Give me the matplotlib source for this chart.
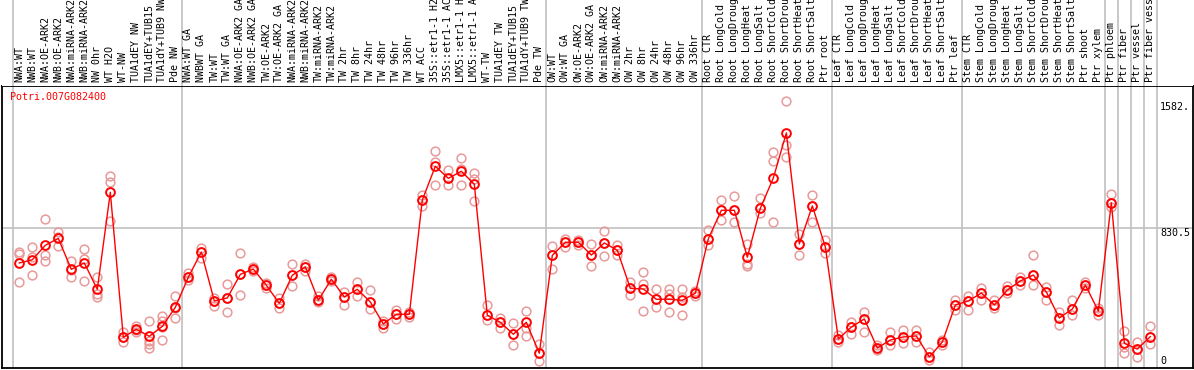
import matplotlib
matplotlib.use("Agg")
import matplotlib.pyplot as plt
import numpy as np

gene = "Potri.007G082400"

labels = [
    "NWA:WT", "NWB:WT", "NWA:OE-ARK2", "NWB:OE-ARK2", "NWA:miRNA-ARK2", "NWB:miRNA-ARK2",
    "NW 0hr", "WT H2O", "WT-NW", "TUA1dEY NW", "TUA1dEY+TUB15", "TUA1dY+TUB9 NW", "Pde NW",
    "NWA:WT GA", "NWBWT GA", "TW:WT", "TW:WT GA", "NWA:OE-ARK2 GA", "NWB:OE-ARK2 GA",
    "TW:OE-ARK2", "TW:OE-ARK2 GA", "NWA:miRNA-ARK2", "NWB:miRNA-ARK2", "TW:miRNA-ARK2",
    "TW:miRNA-ARK2", "TW 2hr", "TW 8hr", "TW 24hr", "TW 48hr", "TW 96hr", "TW 336hr",
    "WT ACC", "35S::etr1-1 H2", "35S::etr1-1 AC", "LMX5::etr1-1 H", "LMX5::etr1-1 A",
    "WT-TW", "TUA1dEY TW", "TUA1dEY+TUB15", "TUA1dY+TUB9 TW", "Pde TW",
    "OW:WT", "OW:WT GA", "OW:OE-ARK2", "OW:OE-ARK2 GA", "OW:miRNA-ARK2", "OW:miRNA-ARK2",
    "OW 2hr", "OW 8hr", "OW 24hr", "OW 48hr", "OW 96hr", "OW 336hr",
    "Root CTR", "Root LongCold", "Root LongDroug", "Root LongHeat", "Root LongSalt",
    "Root ShortCold", "Root ShortDrou", "Root ShortHeat", "Root ShortSalt", "Ptr root",
    "Leaf CTR", "Leaf LongCold", "Leaf LongDroug", "Leaf LongHeat", "Leaf LongSalt",
    "Leaf ShortCold", "Leaf ShortDrou", "Leaf ShortHeat", "Leaf ShortSalt", "Ptr leaf",
    "Stem CTR", "Stem LongCold", "Stem LongDroug", "Stem LongHeat", "Stem LongSalt",
    "Stem ShortCold", "Stem ShortDrou", "Stem ShortHeat", "Stem ShortSalt", "Ptr shoot",
    "Ptr xylem", "Ptr phloem", "Ptr fiber", "Ptr vessel", "Ptr fiber vess",
]

means = [
    621, 640, 726, 767, 583, 621, 464, 1041, 179, 227, 185, 244, 357,
    536, 686, 395, 413, 553, 585, 488, 381, 548, 597, 399, 524, 419, 464, 389,
    258, 316, 316, 995, 1196, 1124, 1166, 1089, 310, 268, 197, 268, 84,
    666, 744, 744, 668, 740, 696, 470, 466, 405, 405, 399, 441,
    765, 934, 934, 655, 946, 1126, 1394, 734, 960, 716,
    169, 240, 288, 115, 163, 181, 187, 62, 151, 371,
    395, 442, 371, 460, 514, 549, 448, 294, 347, 490, 335,
    979, 143, 109, 183,
]

replicates = [
    [686, 672, 506], [716, 658, 548], [880, 668, 631], [803, 775, 724], [634, 579, 537],
    [702, 644, 512], [539, 436, 420], [1138, 1100, 872], [209, 178, 151], [248, 222, 209],
    [276, 159, 137, 117], [306, 276, 242, 163], [424, 353, 295],
    [559, 536, 518], [712, 686, 652], [414, 395, 363], [494, 413, 328], [680, 553, 429],
    [597, 585, 571], [502, 488, 472], [413, 381, 351], [615, 548, 482], [617, 597, 571],
    [424, 399, 389], [537, 524, 511], [450, 419, 369], [506, 464, 423], [460, 389, 347],
    [276, 258, 236], [341, 316, 290], [329, 316, 300], [1023, 995, 960], [1285, 1221, 1086],
    [1172, 1124, 1086], [1243, 1181, 1086], [1154, 1118, 987], [369, 310, 280],
    [295, 268, 236], [266, 197, 131], [334, 236, 187], [137, 84, 36],
    [722, 666, 583], [762, 744, 714], [757, 744, 728], [732, 668, 601], [811, 740, 660],
    [726, 696, 666], [509, 470, 429], [567, 494, 334], [464, 405, 357], [464, 435, 328],
    [468, 420, 310], [454, 441, 424],
    [815, 765, 726], [993, 934, 875], [1019, 934, 864], [735, 617, 603], [1009, 946, 916],
    [1281, 1227, 864], [1582, 1322, 1251], [793, 734, 668], [1025, 960, 864], [757, 716, 680],
    [193, 169, 151], [270, 240, 199], [329, 288, 210], [133, 115, 103], [210, 163, 133],
    [222, 181, 145], [222, 187, 151], [92, 62, 44], [163, 151, 133], [401, 371, 341],
    [424, 395, 341], [472, 442, 401], [401, 371, 353], [484, 460, 442], [537, 514, 490],
    [668, 549, 490], [478, 448, 401], [329, 294, 252], [401, 347, 312], [508, 490, 472],
    [353, 335, 312],
    [1029, 979, 955], [218, 123, 84], [151, 109, 60], [244, 183, 137],
]

group_edges = [-0.5, 12.5, 40.5, 52.5, 62.5, 72.5, 83.5, 84.5, 85.5, 86.5, 87.5]
ytick_vals = [0, 830.5, 1582]
ytick_text = ["0", "830.5", "1582."]
y_mid = 830.5

W, H = 1194, 370
fig = plt.figure(figsize=(W / 100, H / 100), dpi=100)

x0, x1 = -1.331, 90.28
ylo, yhi = -3.6, 1673

ax = fig.add_axes([2 / W, 2 / H, 1191 / W, 282 / H])
hx = fig.add_axes([2 / W, 284 / H, 1191 / W, 86 / H])

for a in (ax, hx):
    a.set_xlim(x0, x1)
    a.set_xticks([])
    a.set_yticks([])
    for e in group_edges:
        a.axvline(e, color="#c0c0c0", lw=1.2, zorder=0)

hx.set_ylim(86, 0)
for s in hx.spines.values():
    s.set_visible(False)
for s in ax.spines.values():
    s.set_color("black")
    s.set_linewidth(1.3)

ax.set_ylim(ylo, yhi)
ax.axhline(y_mid, color="#c0c0c0", lw=1.2, zorder=0)

mono = "DejaVu Sans Mono"
xs = np.arange(len(labels))
for xi, lab in zip(xs, labels):
    hx.text(xi, 82, lab[:14], rotation=90, ha="center", va="bottom",
            fontsize=7.2, family=mono, color="black")

for xi, rv in zip(xs, replicates):
    ax.plot([xi] * len(rv), rv, linestyle="none", marker="o", markersize=6.3,
            markerfacecolor="none", markeredgecolor="#e89a9a", markeredgewidth=1.1,
            zorder=2, clip_on=False)

ax.plot(xs, means, color="red", lw=1.0, zorder=3)
ax.plot(xs, means, linestyle="none", marker="o", markersize=6.3, markerfacecolor="none",
        markeredgecolor="red", markeredgewidth=1.4, zorder=4)

ax.text(x0 + (9.5 - 2) / 13, yhi - (92 - 86) / 0.16821, gene, color="red", fontsize=7.2,
        family=mono, ha="left", va="top")

xlab = x0 + (1160 - 2) / 13
for v, t in zip(ytick_vals, ytick_text):
    if v == 0:
        ax.text(xlab, v + 8, t, fontsize=7.2, family=mono, ha="left", va="bottom")
    else:
        ax.text(xlab, v - 3, t, fontsize=7.2, family=mono, ha="left", va="top")

fig.savefig("out.png", dpi=100)
